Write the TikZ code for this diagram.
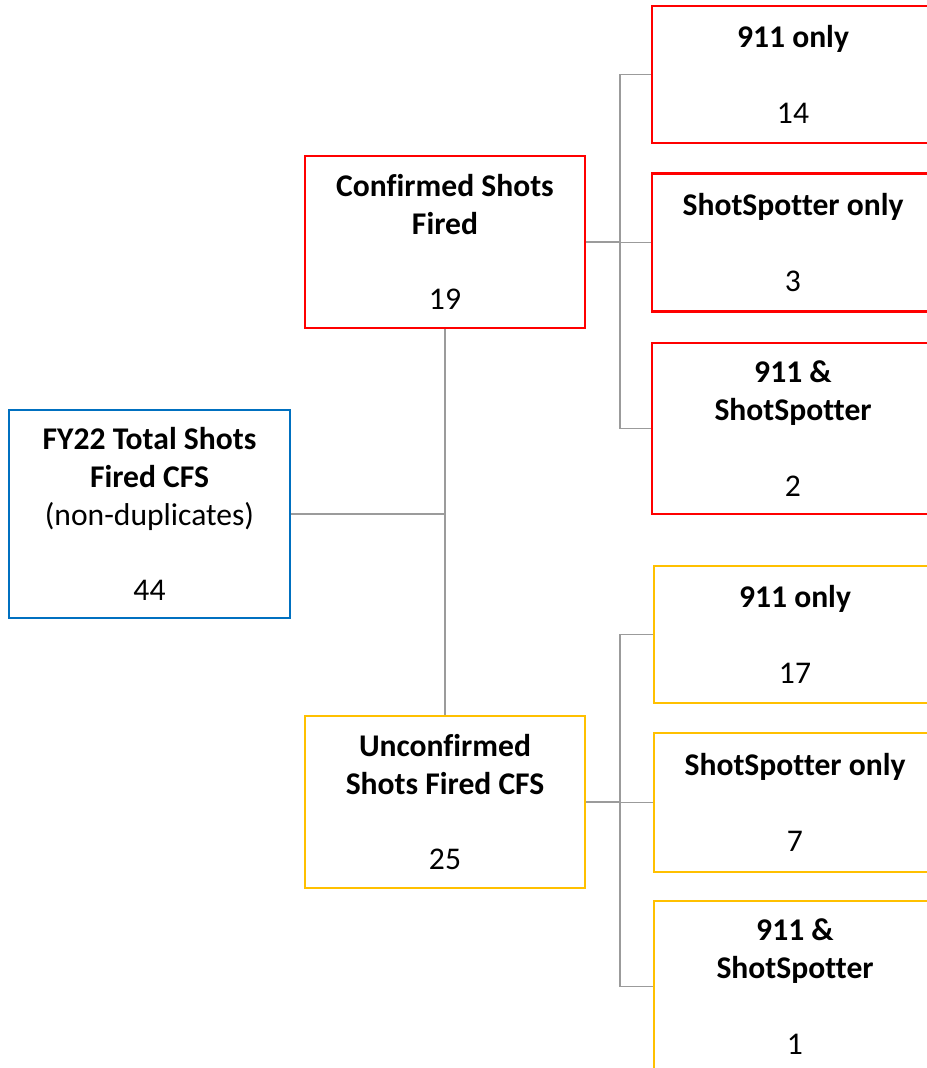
\documentclass[tikz,border=0pt]{standalone}
\usepackage{fontspec}
\setmainfont{Carlito}[Ligatures=NoCommon]
\usetikzlibrary{positioning}

\definecolor{cfred}{RGB}{255,0,0}
\definecolor{cfblue}{RGB}{0,112,192}
\definecolor{cfyellow}{RGB}{255,192,0}
\definecolor{linkgray}{RGB}{155,155,155}

\tikzset{
  box/.style={draw,line width=1.8pt,inner sep=0pt,align=center,
    font=\fontsize{23.7}{28.3}\selectfont},
  midbox/.style={box,minimum width=210pt,minimum height=129pt},
  leafbox/.style={box,minimum width=211.5pt},
  link/.style={draw=linkgray,line width=1pt}
}

\begin{document}
\begin{tikzpicture}[x=0.75pt,y=-0.75pt]
    \useasboundingbox(0,0)rectangle(927,1068);
    \clip(0,0)rectangle(927,1068);

    % root
    \node[box,draw=cfblue,minimum width=210.75pt,minimum height=156pt](total)at(149.5,514)
        {\textbf{FY22 Total Shots}\\\textbf{Fired CFS}\\(non-duplicates)\\[28.3pt]44};

    % confirmed / unconfirmed
    \node[midbox,draw=cfred](conf)at(445,242)
        {\textbf{Confirmed Shots}\\\textbf{Fired}\\[28.3pt]19};
    \node[midbox,draw=cfyellow](unconf)at(445,802)
        {\textbf{Unconfirmed}\\\textbf{Shots Fired CFS}\\[28.3pt]25};

    % leaves, confirmed
    \node[leafbox,draw=cfred,minimum height=102.75pt](conf911)at(793,74.5)
        {\textbf{911 only}\\[28.3pt]14};
    \node[leafbox,draw=cfred,minimum height=103.5pt](confss)at(793,242.5)
        {\textbf{ShotSpotter only}\\[28.3pt]3};
    \node[leafbox,draw=cfred,minimum height=128.25pt](confboth)at(793,428.5)
        {\textbf{911 \&}\\\textbf{ShotSpotter}\\[28.3pt]2};

    % leaves, unconfirmed
    \node[leafbox,draw=cfyellow,minimum height=102.75pt](unconf911)at(795,634.5)
        {\textbf{911 only}\\[28.3pt]17};
    \node[leafbox,draw=cfyellow,minimum height=104.25pt](unconfss)at(795,802.5)
        {\textbf{ShotSpotter only}\\[28.3pt]7};
    \node[leafbox,draw=cfyellow,minimum height=128.25pt](unconfboth)at(795,986.5)
        {\textbf{911 \&}\\\textbf{ShotSpotter}\\[28.3pt]1};

    % connectors
    \draw[link](conf.south)--(unconf.north);
    \draw[link](total.east)--(total.east-|conf.south);

    \coordinate(cj)at(620,242);
    \coordinate(uj)at(620,802);
    \draw[link](conf.east)--(cj);
    \draw[link](conf911.west)--(conf911.west-|cj)--(confboth.west-|cj)--(confboth.west);
    \draw[link](confss.west)--(confss.west-|cj);

    \draw[link](unconf.east)--(uj);
    \draw[link](unconf911.west)--(unconf911.west-|uj)--(unconfboth.west-|uj)--(unconfboth.west);
    \draw[link](unconfss.west)--(unconfss.west-|uj);
\end{tikzpicture}
\end{document}
